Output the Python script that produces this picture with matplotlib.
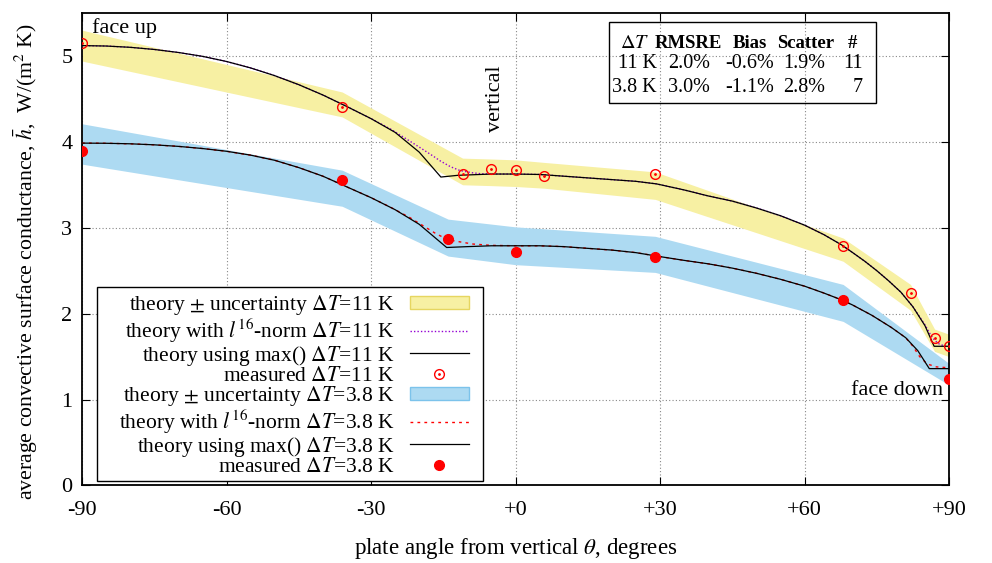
# Convective surface conductance vs plate angle, two temperature differences

import matplotlib
matplotlib.use('Agg')
import matplotlib.pyplot as plt
from matplotlib.patches import Patch, Rectangle
from matplotlib.lines import Line2D
from matplotlib.legend_handler import HandlerTuple

plt.rcParams['font.family'] = ['Liberation Serif', 'DejaVu Serif']
plt.rcParams['mathtext.fontset'] = 'stix'

# measured points and uncertainty band, dT = 11 K
theta_11 = [-90, -36, -11, -5, 0, 6, 29, 68, 82, 87, 90]
h_meas_11 = [5.15, 4.41, 3.63, 3.68, 3.67, 3.60, 3.63, 2.79, 2.24, 1.72, 1.62]
band_hi_11 = [5.30, 4.58, 3.81, 3.80, 3.79, 3.76, 3.65, 2.88, 2.34, 1.82, 1.76]
band_lo_11 = [4.94, 4.29, 3.50, 3.49, 3.48, 3.46, 3.33, 2.61, 2.04, 1.56, 1.50]

# measured points and uncertainty band, dT = 3.8 K
theta_38 = [-90, -36, -14, 0, 29, 68, 90]
h_meas_38 = [3.89, 3.55, 2.87, 2.72, 2.66, 2.16, 1.24]
band_hi_38 = [4.21, 3.67, 3.10, 3.01, 2.90, 2.34, 1.42]
band_lo_38 = [3.74, 3.25, 2.67, 2.57, 2.48, 1.91, 1.17]

# theory using max(), dT = 11 K
ang_max_11 = [-90, -85, -80, -75, -70, -65, -60, -55, -50, -45, -40, -35, -30, -25,
              -20, -15.5, -12, -5, 0, 5, 10, 15, 20, 25, 29.3, 35, 40, 45, 50, 55,
              60, 64, 67.7, 70, 72.5, 75, 77.5, 80, 82.5, 85, 86.9, 90]
h_max_11 = [5.12, 5.115, 5.10, 5.075, 5.04, 4.995, 4.935, 4.86, 4.77, 4.665, 4.545,
            4.41, 4.27, 4.11, 3.88, 3.59, 3.61, 3.625, 3.625, 3.62, 3.60, 3.58, 3.56,
            3.54, 3.51, 3.44, 3.37, 3.31, 3.23, 3.14, 3.03, 2.92, 2.80, 2.71, 2.61,
            2.50, 2.38, 2.25, 2.08, 1.86, 1.62, 1.62]

# theory with l16-norm, dT = 11 K
ang_l16_11 = [-90, -85, -80, -75, -70, -65, -60, -55, -50, -45, -40, -35, -30, -26,
              -22, -19.2, -17, -15.7, -13.5, -11.5, -9, -7.4, -5, 0, 5, 10, 15, 20,
              25, 29.3, 35, 40, 45, 50, 55, 60, 64, 67.7, 70, 72.5, 75, 77.5, 80,
              82.5, 85, 86, 87, 88, 89, 90]
h_l16_11 = [5.12, 5.115, 5.10, 5.075, 5.04, 4.995, 4.935, 4.86, 4.77, 4.665, 4.545,
            4.41, 4.27, 4.15, 4.01, 3.91, 3.83, 3.78, 3.71, 3.665, 3.64, 3.63,
            3.625, 3.625, 3.62, 3.60, 3.58, 3.56, 3.54, 3.51, 3.44, 3.37, 3.31,
            3.23, 3.14, 3.03, 2.92, 2.80, 2.71, 2.61, 2.50, 2.38, 2.25, 2.08, 1.87,
            1.77, 1.69, 1.645, 1.625, 1.62]

# theory using max(), dT = 3.8 K
ang_max_38 = [-90, -85, -80, -75, -70, -65, -60, -55, -50, -45, -40, -35, -30, -25,
              -20, -14.3, -10, -5, 0, 5, 10, 15, 20, 25, 29.3, 35, 40, 45, 50, 55,
              60, 64, 67.7, 70, 74, 78, 81, 83.5, 85.9, 90]
h_max_38 = [3.985, 3.983, 3.977, 3.965, 3.947, 3.922, 3.89, 3.845, 3.785, 3.70, 3.60,
            3.475, 3.35, 3.21, 3.04, 2.77, 2.78, 2.79, 2.79, 2.79, 2.78, 2.76, 2.74,
            2.71, 2.67, 2.62, 2.58, 2.53, 2.47, 2.40, 2.32, 2.24, 2.16, 2.10, 1.98,
            1.84, 1.72, 1.57, 1.36, 1.36]

# theory with l16-norm, dT = 3.8 K
ang_l16_38 = [-90, -85, -80, -75, -70, -65, -60, -55, -50, -45, -40, -35, -30, -26,
              -22, -19.1, -16.5, -14, -11, -8.8, -5, 0, 5, 10, 15, 20, 25, 29.3, 35,
              40, 45, 50, 55, 60, 64, 67.7, 70, 74, 78, 81, 82.5, 83.9, 85, 85.7,
              87.4, 90]
h_l16_38 = [3.985, 3.983, 3.977, 3.965, 3.947, 3.922, 3.89, 3.845, 3.785, 3.70, 3.60,
            3.475, 3.35, 3.24, 3.12, 3.02, 2.93, 2.86, 2.83, 2.81, 2.795, 2.79, 2.79,
            2.78, 2.76, 2.74, 2.71, 2.67, 2.62, 2.58, 2.53, 2.47, 2.40, 2.32, 2.24,
            2.16, 2.10, 1.98, 1.84, 1.72, 1.62, 1.50, 1.44, 1.41, 1.38, 1.37]

# statistics table
table_head = ['RMSRE', 'Bias', 'Scatter', '#']
table_dt = ['11 K', '3.8 K']
table_rmsre = ['2.0%', '3.0%']
table_bias = ['-0.6%', '-1.1%']
table_scatter = ['1.9%', '2.8%']
table_n = ['11', '7']

xticks = [-90, -60, -30, 0, 30, 60, 90]
xtick_labels = ['-90', '-60', '-30', '+0', '+30', '+60', '+90']

yellow = '#F7F0A3'
blue = '#ADDAF2'

fig, ax = plt.subplots(figsize=(9.92, 5.63), dpi=100)
fig.subplots_adjust(left=0.0827, right=0.9567, top=0.977, bottom=0.1377)

ax.fill_between(theta_11, band_lo_11, band_hi_11, color=yellow, lw=0, zorder=1)
ax.fill_between(theta_38, band_lo_38, band_hi_38, color=blue, lw=0, zorder=1)

ax.plot(ang_l16_11, h_l16_11, color='#9400D3', lw=1.0, ls=(0, (1, 1.5)), zorder=3)
ax.plot(ang_max_11, h_max_11, color='black', lw=0.9, zorder=3)
ax.plot(theta_11, h_meas_11, ls='none', marker='o', ms=7, mfc='none', mec='red',
        mew=1.0, zorder=4)
ax.plot(theta_11, h_meas_11, ls='none', marker='.', ms=2, color='red', zorder=4)

ax.plot(ang_l16_38, h_l16_38, color='red', lw=1.0, ls=(0, (2, 3)), zorder=3)
ax.plot(ang_max_38, h_max_38, color='black', lw=0.9, zorder=3)
ax.plot(theta_38, h_meas_38, ls='none', marker='o', ms=7, color='red', zorder=4)

ax.set_xlim(-90, 90)
ax.set_ylim(0, 5.5)
ax.set_xticks(xticks)
ax.set_xticklabels(xtick_labels)
ax.set_yticks([0, 1, 2, 3, 4, 5])
ax.tick_params(direction='in', top=True, right=True, length=6, width=0.8,
               labelsize=16)
ax.tick_params(axis='x', pad=11)
ax.tick_params(axis='y', pad=7)
ax.grid(True, color='#888888', lw=0.8, ls=(0, (1, 2)), zorder=0)
ax.set_axisbelow(True)
for s in ax.spines.values():
    s.set_linewidth(1.3)

ax.set_xlabel(r'plate angle from vertical $\theta$, degrees', fontsize=16.5,
              labelpad=12)
ax.set_ylabel(r'average convective surface conductance, $\bar{h}$,  W/(m$^2$ K)',
              fontsize=15.7)
ax.yaxis.set_label_coords(-0.048, 0.473)

ax.text(-88, 5.33, 'face up', fontsize=16, va='center', ha='left')
ax.text(88.7, 1.10, 'face down', fontsize=16, va='center', ha='right')
ax.text(-2.2, 4.5, 'vertical', fontsize=16, va='center', ha='right', rotation=90)

# statistics box
ax.add_patch(Rectangle((0.608, 0.8095), 0.308, 0.172, transform=ax.transAxes,
                       fill=False, ec='black', lw=1.0, zorder=5))
ax.text(0.6378, 0.926, r'$\Delta T$', transform=ax.transAxes, fontsize=14.5,
        ha='center', va='baseline')
for x, t in zip([0.699, 0.7705, 0.835, 0.888], table_head):
    ax.text(x, 0.926, t, transform=ax.transAxes, fontsize=13.5, fontweight='bold',
            ha='center', va='baseline')
for y, i in zip([0.8836, 0.8328], range(2)):
    ax.text(0.6632, y, table_dt[i], transform=ax.transAxes, fontsize=14.5,
            ha='right', va='baseline')
    ax.text(0.6759, y, table_rmsre[i], transform=ax.transAxes, fontsize=14.5,
            ha='left', va='baseline')
    ax.text(0.7416, y, table_bias[i], transform=ax.transAxes, fontsize=14.5,
            ha='left', va='baseline')
    ax.text(0.8085, y, table_scatter[i], transform=ax.transAxes, fontsize=14.5,
            ha='left', va='baseline')
    ax.text(0.9008, y, table_n[i], transform=ax.transAxes, fontsize=14.5,
            ha='right', va='baseline')

# legend, gnuplot style: text on the left, sample on the right, own frame
ax.add_patch(Rectangle((0.0173, 0.0095), 0.4452, 0.4106, transform=ax.transAxes,
                       fc='white', ec='black', lw=1.0, zorder=6))
open_c = Line2D([], [], ls='none', marker='o', ms=7, mfc='none', mec='red', mew=1.0)
open_d = Line2D([], [], ls='none', marker='.', ms=2, color='red')
handles = [
    Patch(facecolor=yellow, edgecolor='#E6D660', lw=1),
    Line2D([], [], color='#9400D3', lw=1.0, ls=(0, (1, 1.5))),
    Line2D([], [], color='black', lw=0.9),
    (open_c, open_d),
    Patch(facecolor=blue, edgecolor='#7CC3EB', lw=1),
    Line2D([], [], color='red', lw=1.0, ls=(0, (2, 3))),
    Line2D([], [], color='black', lw=0.9),
    Line2D([], [], ls='none', marker='o', ms=7, color='red'),
]
labels = [
    r'theory $\pm$ uncertainty $\Delta T$=11 K',
    r'theory with $l^{16}$-norm $\Delta T$=11 K',
    r'theory using max() $\Delta T$=11 K',
    r'measured $\Delta T$=11 K',
    r'theory $\pm$ uncertainty $\Delta T$=3.8 K',
    r'theory with $l^{16}$-norm $\Delta T$=3.8 K',
    r'theory using max() $\Delta T$=3.8 K',
    r'measured $\Delta T$=3.8 K',
]
leg = ax.legend(handles, labels, loc='upper right', bbox_to_anchor=(0.4464, 0.4063),
                borderaxespad=0, markerfirst=False, fontsize=15.5, frameon=False,
                handlelength=2.75, handleheight=0.55, handletextpad=0.7,
                labelspacing=-0.05, borderpad=0,
                handler_map={tuple: HandlerTuple(ndivide=1, pad=0)})
leg.set_zorder(7)

plt.savefig('out.png', dpi=100)
